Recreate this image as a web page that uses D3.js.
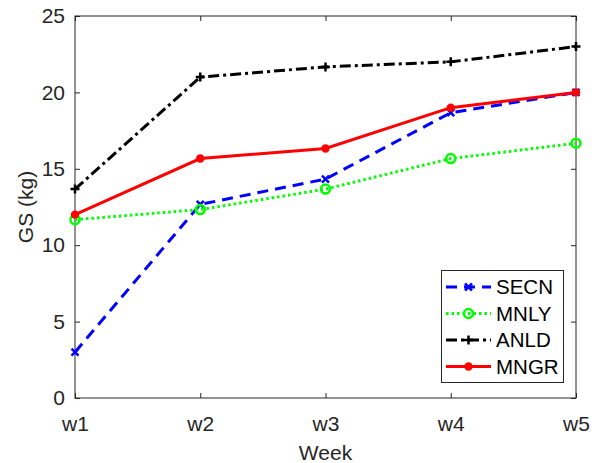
<!DOCTYPE html>
<html><head><meta charset="utf-8">
<script src="https://cdn.jsdelivr.net/npm/d3@7"></script>
<style>body{margin:0;background:#fff}svg{display:block}text{font-family:"Liberation Sans",Arial,sans-serif}</style>
</head><body><svg id="c" width="602" height="463"></svg>
<script>
const weeks = ["w1","w2","w3","w4","w5"];
const yTicks = [0,5,10,15,20,25];
const secn = [3, 12.67, 14.33, 18.67, 20];
const mnly = [11.67, 12.33, 13.67, 15.67, 16.67];
const anld = [13.67, 21, 21.67, 22, 23];
const mngr = [12, 15.67, 16.33, 19, 20];
const seriesNames = ["SECN","MNLY","ANLD","MNGR"];

const series = [
  {name:seriesNames[0], vals:secn, color:"#0000ff", dash:"11,7", marker:"x"},
  {name:seriesNames[1], vals:mnly, color:"#00ff00", dash:"2.5,3", marker:"o"},
  {name:seriesNames[2], vals:anld, color:"#000000", dash:"11,4,3,4", marker:"+"},
  {name:seriesNames[3], vals:mngr, color:"#ff0000", dash:null, marker:"dot"}
];

const L=75, R=576, T=16, B=398;
const svg = d3.select("#c");
const x = d3.scalePoint().domain(weeks).range([L,R]);
const y = d3.scaleLinear().domain([0,25]).range([B,T]);
const ax = "#262626";
const fs = "21px";

svg.append("rect").attr("x",L).attr("y",T).attr("width",R-L).attr("height",B-T)
  .attr("fill","none").attr("stroke",ax).attr("stroke-width",1);

const xa = svg.append("g").attr("transform",`translate(0,${B})`)
  .call(d3.axisBottom(x).tickSizeInner(-5).tickSizeOuter(0).tickPadding(18));
const ya = svg.append("g").attr("transform",`translate(${L},0)`)
  .call(d3.axisLeft(y).tickValues(yTicks).tickSizeInner(-5).tickSizeOuter(0).tickPadding(10));
const xt = svg.append("g").attr("transform",`translate(0,${T})`)
  .call(d3.axisTop(x).tickSizeInner(-5).tickSizeOuter(0).tickFormat(""));
const yr = svg.append("g").attr("transform",`translate(${R},0)`)
  .call(d3.axisRight(y).tickValues(yTicks).tickSizeInner(-5).tickSizeOuter(0).tickFormat(""));
[xa,ya,xt,yr].forEach(g=>{
  g.select(".domain").remove();
  g.selectAll("line").attr("stroke",ax);
  g.selectAll("text").attr("fill",ax).style("font-size",fs);
});
xa.selectAll("text").attr("dy","0.71em");

svg.append("text").attr("x",(L+R)/2).attr("y",460).attr("text-anchor","middle")
  .attr("fill",ax).style("font-size",fs).text("Week");
svg.append("text").attr("transform",`translate(33,${(T+B)/2}) rotate(-90)`).attr("text-anchor","middle")
  .attr("fill",ax).style("font-size",fs).text("GS (kg)");

const line = d3.line().x((d,i)=>x(weeks[i])).y(d=>y(d));

function drawMarker(g, type, cx, cy, color){
  if(type==="x"){
    const s=3.5;
    g.append("path").attr("d",`M${cx-s},${cy-s}L${cx+s},${cy+s}M${cx-s},${cy+s}L${cx+s},${cy-s}`)
      .attr("stroke",color).attr("stroke-width",2.5).attr("fill","none");
  } else if(type==="o"){
    g.append("circle").attr("cx",cx).attr("cy",cy).attr("r",4.5).attr("fill","none")
      .attr("stroke",color).attr("stroke-width",2.5);
  } else if(type==="+"){
    const s=4.5;
    g.append("path").attr("d",`M${cx-s},${cy}L${cx+s},${cy}M${cx},${cy-s}L${cx},${cy+s}`)
      .attr("stroke",color).attr("stroke-width",2.5).attr("fill","none");
  } else {
    g.append("circle").attr("cx",cx).attr("cy",cy).attr("r",4.2).attr("fill",color);
  }
}

const plot = svg.append("g");
series.forEach(s=>{
  const p = plot.append("path").attr("d",line(s.vals)).attr("fill","none")
    .attr("stroke",s.color).attr("stroke-width",3);
  if(s.dash) p.attr("stroke-dasharray",s.dash);
  s.vals.forEach((v,i)=>drawMarker(plot,s.marker,x(weeks[i]),y(v),s.color));
});

const lg = svg.append("g");
lg.append("rect").attr("x",441.5).attr("y",270.5).attr("width",122).attr("height",112)
  .attr("fill","#fff").attr("stroke",ax).attr("stroke-width",1);
series.forEach((s,i)=>{
  const ly = 287 + i*26.5;
  const p = lg.append("line").attr("x1",446).attr("x2",491).attr("y1",ly).attr("y2",ly)
    .attr("stroke",s.color).attr("stroke-width",3);
  if(s.dash) p.attr("stroke-dasharray",s.dash);
  drawMarker(lg,s.marker,468.5,ly,s.color);
  lg.append("text").attr("x",496).attr("y",ly).attr("dy","0.35em").attr("fill","#000")
    .style("font-size","20.5px").text(s.name);
});
</script></body></html>
